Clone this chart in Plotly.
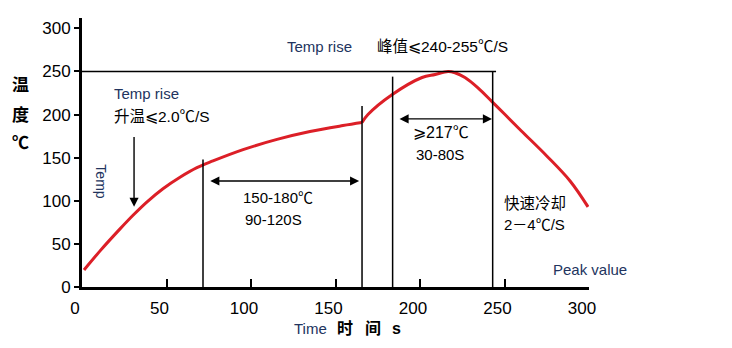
import plotly.graph_objects as go

# Reflow soldering temperature profile: time (s) vs. temperature (°C)
# Preheat / soak stage
preheat_time = [1.2, 10.7, 22.5, 30.2, 38.5, 47.9, 58, 68, 77.5, 95.3, 115.4,
                134.9, 154.4, 165.7]
preheat_temp = [19.8, 41.9, 67.4, 83.2, 98.8, 114, 127.3, 138.4, 146.2, 159.3,
                171.2, 180.3, 187.2, 190.7]
# Reflow and cooling stage
reflow_time = [165.7, 169.2, 183.4, 201.2, 209, 216.6, 220.7, 226.6, 234.3,
               242.6, 250.3, 260, 275, 288.8, 299.4]
reflow_temp = [190.7, 200, 223, 243, 246.5, 250, 248.5, 243, 231,
               215, 200, 181, 152, 123, 93]

# Zone boundaries (time) and how high each boundary line reaches (°C)
zone_time = [71.6, 165.7, 183.8, 243.0]
zone_top = [148, 210, 244, 250]

# Peak reference line
peak_temp = 250
peak_line_end = 245

# Span arrows: (start time, end time, temperature level)
soak_span = (75, 164, 123)
reflow_span = (187, 242.6, 195)
# Ramp-up pointer: time, from temp, to temp
ramp_pointer = (30.8, 175.6, 93)

x_ticks = [0, 50, 100, 150, 200, 250, 300]
y_ticks = [0, 50, 100, 150, 200, 250, 300]

LATIN = "Liberation Sans, Arial, sans-serif"
MIXED = "Liberation Sans, Noto Sans CJK SC, sans-serif"
NAVY = "#22345e"
RED = "#dc1f27"

fig = go.Figure()
for xs, ys in [(preheat_time, preheat_temp), (reflow_time, reflow_temp)]:
    fig.add_trace(go.Scatter(
        x=xs, y=ys, mode="lines",
        line=dict(color=RED, width=3, shape="spline", smoothing=1.0),
        hoverinfo="skip", showlegend=False,
    ))

shapes = []
for t, top in zip(zone_time, zone_top):
    shapes.append(dict(type="line", xref="x", yref="y", x0=t, x1=t, y0=0, y1=top,
                       line=dict(color="black", width=1.5)))
shapes.append(dict(type="line", xref="x", yref="y", x0=0, x1=peak_line_end,
                   y0=peak_temp, y1=peak_temp, line=dict(color="black", width=1.5)))

arrow_style = dict(xref="x", yref="y", axref="x", ayref="y", text="", showarrow=True,
                   arrowhead=2, arrowsize=1.3, arrowwidth=1.4, arrowcolor="black")
annotations = [
    dict(x=ramp_pointer[0], y=ramp_pointer[2], ax=ramp_pointer[0], ay=ramp_pointer[1],
         **arrow_style),
    dict(x=soak_span[1], y=soak_span[2], ax=soak_span[0], ay=soak_span[2],
         arrowside="end+start", startarrowhead=2, startarrowsize=1.3, **arrow_style),
    dict(x=reflow_span[1], y=reflow_span[2], ax=reflow_span[0], ay=reflow_span[2],
         arrowside="end+start", startarrowhead=2, startarrowsize=1.3, **arrow_style),
]


def label(text, x, y, size=15, color="black", family=MIXED, xanchor="center", **kw):
    annotations.append(dict(text=text, x=x, y=y, xref=kw.pop("xref", "x"),
                            yref=kw.pop("yref", "y"), showarrow=False,
                            xanchor=xanchor, yanchor="middle",
                            font=dict(size=size, color=color, family=family), **kw))


label("Temp rise", 120.1, 279, color=NAVY, family=LATIN, xanchor="left")
label("峰值⩽240-255℃/S", 173.4, 279, size=15.5, xanchor="left")
label("Temp rise", 17.8, 224.4, color=NAVY, family=LATIN, xanchor="left")
label("升温⩽2.0℃/S", 17.8, 197.7, size=15.5, xanchor="left")
label("Temp", 11, 123, size=14, color=NAVY, family=LATIN, textangle=90)
label("150-180℃", 116, 103.5)
label("90-120S", 113.3, 78)
label("⩾217℃", 212.4, 179, size=16)
label("30-80S", 212, 153.5)
label("快速冷却", 248.5, 96.5, size=15.5, xanchor="left")
label("2－4℃/S", 248.5, 72, xanchor="left")
label("Peak value", 277.5, 19.8, color=NAVY, family=LATIN, xanchor="left")

# Axis titles built from separate glyph groups
label("Time", (292 - 82) / 507, -0.156, color=NAVY, family=LATIN, xanchor="left",
      xref="paper", yref="paper")
for ch, px in [("时", 345), ("间", 373), ("s", 396)]:
    label(f"<b>{ch}</b>", (px - 82) / 507, -0.156, size=16, xref="paper", yref="paper")
for ch, py in [("温", 85), ("度", 115), ("℃", 143)]:
    label(f"<b>{ch}</b>", (20 - 82) / 507, (287 - py) / 269, size=17,
          xref="paper", yref="paper")

fig.update_layout(
    width=732, height=348,
    margin=dict(l=82, r=143, t=18, b=61),
    paper_bgcolor="white", plot_bgcolor="white",
    shapes=shapes, annotations=annotations,
    xaxis=dict(range=[0, 300], tickvals=x_ticks, showline=True, linewidth=3,
               linecolor="black", ticks="inside", ticklen=8, tickwidth=1.5,
               tickcolor="black", showgrid=False, zeroline=False,
               tickfont=dict(size=17, family=LATIN, color="black"),
               ticklabelshift=-7, ticklabelstandoff=4),
    yaxis=dict(range=[0, 312], tickvals=y_ticks, showline=True, linewidth=3,
               linecolor="black", ticks="outside", ticklen=5, tickwidth=1.5,
               tickcolor="black", showgrid=False, zeroline=False,
               tickfont=dict(size=17, family=LATIN, color="black")),
)

fig.write_html("out.html")
